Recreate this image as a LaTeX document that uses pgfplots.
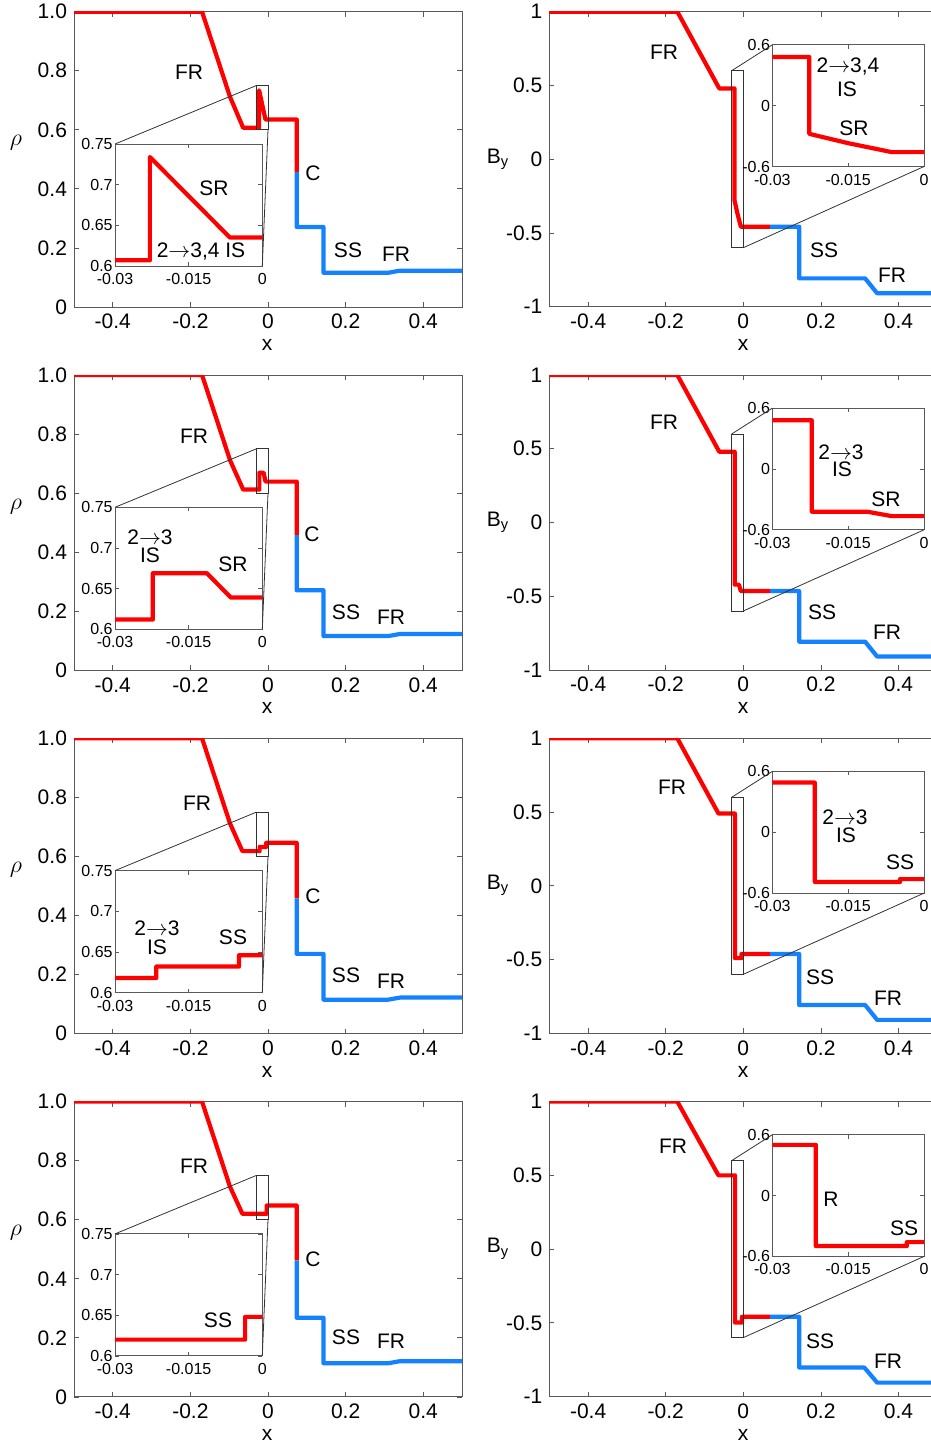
\documentclass[border=0pt]{standalone}
\usepackage{pgfplots}
\usepackage{pgfplotstable}
\pgfplotsset{compat=1.18}
\usepackage{fontspec}
\setmainfont{Liberation Sans}
\definecolor{myred}{RGB}{255,0,0}
\definecolor{myblue}{RGB}{20,130,255}

% ---------------- data ----------------
\pgfplotstableread{
x y
-0.5 1.0
-0.17 1.0
-0.098 0.712
-0.064 0.607
-0.0229 0.607
-0.0229 0.734
-0.0066 0.635
0.074 0.635
0.074 0.458
}\rhoRedA
\pgfplotstableread{
x y
0.074 0.458
0.074 0.271
0.143 0.271
0.143 0.116
0.31 0.116
0.34 0.123
0.5 0.123
}\rhoBlueA
\pgfplotstableread{
x y
-0.5 1.0
-0.17 1.0
-0.098 0.712
-0.064 0.612
-0.0223 0.612
-0.0223 0.669
-0.0113 0.669
-0.0064 0.639
0.074 0.639
0.074 0.458
}\rhoRedB
\pgfplotstableread{
x y
0.074 0.458
0.074 0.271
0.143 0.271
0.143 0.116
0.31 0.116
0.34 0.123
0.5 0.123
}\rhoBlueB
\pgfplotstableread{
x y
-0.5 1.0
-0.17 1.0
-0.098 0.712
-0.066 0.618
-0.0216 0.618
-0.0216 0.632
-0.00475 0.632
-0.00475 0.646
0.074 0.646
0.074 0.458
}\rhoRedC
\pgfplotstableread{
x y
0.074 0.458
0.074 0.27
0.143 0.27
0.143 0.115
0.31 0.115
0.34 0.122
0.5 0.122
}\rhoBlueC
\pgfplotstableread{
x y
-0.5 1.0
-0.17 1.0
-0.098 0.712
-0.066 0.62
-0.0035 0.62
-0.0035 0.648
0.074 0.648
0.074 0.462
}\rhoRedD
\pgfplotstableread{
x y
0.074 0.462
0.074 0.268
0.143 0.268
0.143 0.114
0.31 0.114
0.34 0.121
0.5 0.121
}\rhoBlueD

\pgfplotstableread{
x y
-0.5 1
-0.17 1
-0.062 0.48
-0.0227 0.48
-0.0227 -0.278
-0.015 -0.37
-0.0064 -0.458
0.069 -0.458
}\byRedA
\pgfplotstableread{
x y
0.069 -0.458
0.144 -0.458
0.144 -0.808
0.314 -0.808
0.345 -0.909
0.5 -0.909
}\byBlueA
\pgfplotstableread{
x y
-0.5 1
-0.17 1
-0.062 0.48
-0.0222 0.48
-0.0222 -0.421
-0.0113 -0.421
-0.0064 -0.465
0.069 -0.465
}\byRedB
\pgfplotstableread{
x y
0.069 -0.465
0.144 -0.465
0.144 -0.808
0.314 -0.808
0.345 -0.909
0.5 -0.909
}\byBlueB
\pgfplotstableread{
x y
-0.5 1
-0.17 1
-0.064 0.49
-0.0216 0.49
-0.0216 -0.49
-0.00475 -0.49
-0.00475 -0.462
0.069 -0.462
}\byRedC
\pgfplotstableread{
x y
0.069 -0.462
0.144 -0.462
0.144 -0.808
0.314 -0.808
0.345 -0.909
0.5 -0.909
}\byBlueC
\pgfplotstableread{
x y
-0.5 1
-0.17 1
-0.064 0.5
-0.0214 0.5
-0.0214 -0.498
-0.0034 -0.498
-0.0034 -0.459
0.069 -0.459
}\byRedD
\pgfplotstableread{
x y
0.069 -0.459
0.144 -0.459
0.144 -0.803
0.312 -0.803
0.345 -0.905
0.5 -0.905
}\byBlueD

% ---------------- styles ----------------
\newcommand{\tickfont}{\fontsize{10.5}{12}\selectfont}
\newcommand{\smallfont}{\fontsize{8}{9}\selectfont}
\newcommand{\lblfont}{\fontsize{10.5}{12}\selectfont}
\pgfplotsset{
  base/.style={scale only axis, anchor=south west, clip=true,
    scaled x ticks=false, scaled y ticks=false,
    axis line style={black!65, line width=0.5pt},
    tick style={black!65, line width=0.4pt},
    major tick length=2.5pt, tick align=inside,
    axis background/.style={fill=white}},
  mainL/.style={base, width=194pt, height=147.65pt,
    xmin=-0.5, xmax=0.5, ymin=0, ymax=1,
    xtick={-0.4,-0.2,0,0.2,0.4}, xticklabels={-0.4,-0.2,0,0.2,0.4},
    ytick={0,0.2,0.4,0.6,0.8,1}, yticklabels={0,0.2,0.4,0.6,0.8,1.0},
    ticklabel style={font=\tickfont}},
  mainR/.style={base, width=194pt, height=147.5pt,
    xmin=-0.5, xmax=0.5, ymin=-1, ymax=1,
    xtick={-0.4,-0.2,0,0.2,0.4}, xticklabels={-0.4,-0.2,0,0.2,0.4},
    ytick={-1,-0.5,0,0.5,1}, yticklabels={-1,-0.5,0,0.5,1},
    ticklabel style={font=\tickfont}},
  insetL/.style={base, width=73.65pt, height=61pt,
    xmin=-0.03, xmax=0, ymin=0.6, ymax=0.75,
    xtick={-0.03,-0.015,0}, xticklabels={-0.03,-0.015,0},
    ytick={0.6,0.65,0.7,0.75}, yticklabels={0.6,0.65,0.7,0.75},
    ticklabel style={font=\smallfont, inner sep=1pt}, major tick length=2pt,
    xticklabel style={yshift=-2.5pt}},
  insetR/.style={base, width=75.85pt, height=60.85pt,
    xmin=-0.03, xmax=0, ymin=-0.6, ymax=0.6,
    xtick={-0.03,-0.015,0}, xticklabels={-0.03,-0.015,0},
    ytick={-0.6,0,0.6}, yticklabels={-0.6,0,0.6},
    ticklabel style={font=\smallfont, inner sep=1pt}, major tick length=2pt,
    xticklabel style={yshift=-2.5pt}},
  redl/.style={myred, line width=2.1pt, no marks, line join=round},
  bluel/.style={myblue, line width=2.1pt, no marks, line join=round},
}
\tikzset{zoomline/.style={black!80, line width=0.4pt}}

% #1 vertical shift (pt), #2 red table, #3 blue table, #4 name suffix
\newcommand{\leftpanel}[4]{%
  \begin{axis}[mainL, at={(37pt,-153.5pt-#1)}]
    \addplot[redl] table {#2};
    \addplot[bluel] table {#3};
    \draw[zoomline] (axis cs:-0.03,0.6) rectangle (axis cs:0,0.75);
    \coordinate (a#4) at (axis cs:-0.03,0.75);
    \coordinate (b#4) at (axis cs:0,0.6);
  \end{axis}
  \begin{axis}[insetL, at={(57.5pt,-133pt-#1)}]
    \addplot[redl] table {#2};
    \coordinate (c#4) at (rel axis cs:0,1);
    \coordinate (d#4) at (rel axis cs:1,0);
  \end{axis}
  \draw[zoomline] (a#4) -- (c#4);
  \draw[zoomline] (b#4) -- (d#4);
}
\newcommand{\rightpanel}[4]{%
  \begin{axis}[mainR, at={(274.65pt,-153.35pt-#1)}]
    \addplot[redl] table {#2};
    \addplot[bluel] table {#3};
    \draw[zoomline] (axis cs:-0.03,-0.6) rectangle (axis cs:0,0.6);
    \coordinate (e#4) at (axis cs:-0.03,0.6);
    \coordinate (f#4) at (axis cs:0,-0.6);
  \end{axis}
  \begin{axis}[insetR, at={(386.15pt,-83.25pt-#1)}]
    \addplot[redl] table {#2};
    \coordinate (g#4) at (rel axis cs:0,1);
    \coordinate (h#4) at (rel axis cs:1,0);
  \end{axis}
  \draw[zoomline] (e#4) -- (g#4);
  \draw[zoomline] (f#4) -- (h#4);
}

\begin{document}
\begin{tikzpicture}
\leftpanel{0pt}{\rhoRedA}{\rhoBlueA}{A}
\leftpanel{181.65pt}{\rhoRedB}{\rhoBlueB}{B}
\leftpanel{363.3pt}{\rhoRedC}{\rhoBlueC}{C}
\leftpanel{544.95pt}{\rhoRedD}{\rhoBlueD}{D}
\rightpanel{0pt}{\byRedA}{\byBlueA}{A}
\rightpanel{181.65pt}{\byRedB}{\byBlueB}{B}
\rightpanel{363.3pt}{\byRedC}{\byBlueC}{C}
\rightpanel{544.95pt}{\byRedD}{\byBlueD}{D}

\begin{scope}[x=0.5pt, y=-0.5pt, every node/.style={font=\lblfont, inner sep=0pt}]
  \foreach \k in {0,1,2,3} {
    \node at (16, 143+363.3*\k) {\fontsize{12.5}{13}\selectfont$\rho$};
    \node at (267, 345+363.3*\k) {x};
    \node at (498, 159+363.3*\k) {B\textsubscript{y}};
    \node at (743, 345+363.3*\k) {x};
  }
  % row 1
  \node at (189,72) {FR};
  \node at (313,173) {C};
  \node at (348,250) {SS};
  \node at (396,254) {FR};
  \node at (214,188) {SR};
  \node at (201,252) {2$\rightarrow$3,4 IS};
  \node at (664,52) {FR};
  \node at (848,67) {2$\rightarrow$3,4};
  \node at (847,89) {IS};
  \node at (854,128) {SR};
  \node at (824,250) {SS};
  \node at (892,275) {FR};
  % row 2
  \node at (194,436) {FR};
  \node at (312,534) {C};
  \node at (346,612) {SS};
  \node at (391,617) {FR};
  \node at (150,537) {2$\rightarrow$3};
  \node at (150,555) {IS};
  \node at (233,564) {SR};
  \node at (664,422) {FR};
  \node at (841,452) {2$\rightarrow$3};
  \node at (842,469) {IS};
  \node at (886,499) {SR};
  \node at (822,612) {SS};
  \node at (887,632) {FR};
  % row 3
  \node at (197,803) {FR};
  \node at (313,896) {C};
  \node at (346,975) {SS};
  \node at (391,981) {FR};
  \node at (157,928) {2$\rightarrow$3};
  \node at (157,947) {IS};
  \node at (233,937) {SS};
  \node at (672,787) {FR};
  \node at (845,817) {2$\rightarrow$3};
  \node at (846,835) {IS};
  \node at (900,862) {SS};
  \node at (820,977) {SS};
  \node at (888,998) {FR};
  % row 4
  \node at (194,1166) {FR};
  \node at (313,1259) {C};
  \node at (346,1337) {SS};
  \node at (391,1341) {FR};
  \node at (218,1320) {SS};
  \node at (673,1146) {FR};
  \node at (831,1199) {R};
  \node at (904,1228) {SS};
  \node at (820,1341) {SS};
  \node at (888,1361) {FR};
\end{scope}

\pgfresetboundingbox
\path[use as bounding box] (0pt,0pt) rectangle (465.5pt,-723pt);
\end{tikzpicture}
\end{document}
